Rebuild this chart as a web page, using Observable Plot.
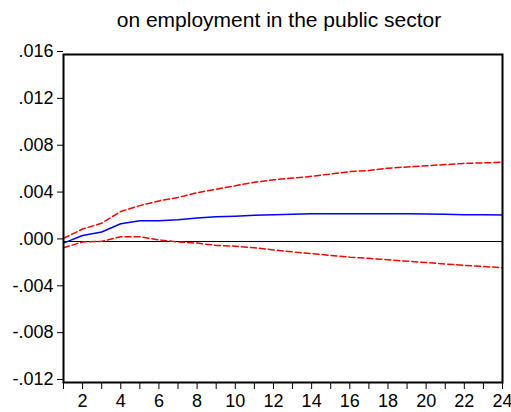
<!DOCTYPE html>
<html>
<head>
<meta charset="utf-8">
<script src="https://cdn.jsdelivr.net/npm/d3@7"></script>
<script src="https://cdn.jsdelivr.net/npm/@observablehq/plot@0.6"></script>
<style>
  html, body { margin: 0; padding: 0; background: white; }
  #title {
    width: 511px; height: 40px; box-sizing: border-box;
    padding-left: 47px; padding-top: 9px;
    font-family: "Liberation Sans", Arial, sans-serif; font-size: 21px; line-height: 21px;
    text-align: center; color: black;
  }
  #chart svg { overflow: visible; }
</style>
</head>
<body>
<div id="title">on employment in the public sector</div>
<div id="chart"></div>
<script>
const periods = [1,2,3,4,5,6,7,8,9,10,11,12,13,14,15,16,17,18,19,20,21,22,23,24];
const response = [-0.0001,0.00055,0.00085,0.00155,0.0018,0.0018,0.0019,0.00205,0.00215,0.0022,0.00228,0.00233,0.00237,0.0024,0.0024,0.0024,0.0024,0.0024,0.0024,0.00238,0.00236,0.00233,0.00232,0.0023];
const upperBand = [0.0003,0.0011,0.0016,0.0026,0.0031,0.0035,0.0038,0.0042,0.0045,0.0048,0.0051,0.0053,0.00545,0.0056,0.0058,0.006,0.0061,0.0063,0.0064,0.0065,0.0066,0.0067,0.00675,0.0068];
const lowerBand = [-0.0005,0.0,0.00005,0.00045,0.00045,0.00017,0.0,-0.0001,-0.0003,-0.00036,-0.0005,-0.00068,-0.00085,-0.001,-0.00115,-0.0013,-0.0014,-0.00153,-0.00165,-0.00176,-0.00188,-0.002,-0.0021,-0.0022];
const yTicks = [-0.012,-0.008,-0.004,0,0.004,0.008,0.012,0.016];
const yTickLabels = ["-.012","-.008","-.004",".000",".004",".008",".012",".016"];
const xTicks = periods;
const xTickLabels = ["","2","","4","","6","","8","","10","","12","","14","","16","","18","","20","","22","","24"];

const data = periods.map((p, i) => ({p, r: response[i], u: upperBand[i], l: lowerBand[i]}));

const chart = Plot.plot({
  width: 511,
  height: 372,
  marginTop: 14,
  marginLeft: 63,
  marginRight: 9,
  marginBottom: 30,
  x: {domain: [1, 24]},
  y: {domain: [-0.012, 0.016]},
  style: {fontFamily: '"Liberation Sans", Arial, sans-serif', fontSize: "18px", color: "black", background: "white", overflow: "visible"},
  marks: [
    Plot.ruleY([0], {stroke: "black", strokeWidth: 1, shapeRendering: "crispEdges"}),
    Plot.line(data, {x: "p", y: "u", stroke: "#ff0000", strokeWidth: 1.5, strokeDasharray: "6,3"}),
    Plot.line(data, {x: "p", y: "l", stroke: "#ff0000", strokeWidth: 1.5, strokeDasharray: "6,3"}),
    Plot.line(data, {x: "p", y: "r", stroke: "#0000ff", strokeWidth: 1.5}),
    Plot.frame({stroke: "black", strokeWidth: 2}),
    Plot.axisY({ticks: yTicks, tickFormat: d => yTickLabels[yTicks.indexOf(d)], tickSize: 6, tickPadding: 4, dy: -3, label: null, stroke: "black", fill: "black"}),
    Plot.axisX({ticks: xTicks, tickFormat: d => xTickLabels[xTicks.indexOf(d)], tickSize: 7, tickPadding: 5, label: null, stroke: "black", fill: "black"})
  ]
});
document.getElementById("chart").appendChild(chart);
</script>
</body>
</html>
